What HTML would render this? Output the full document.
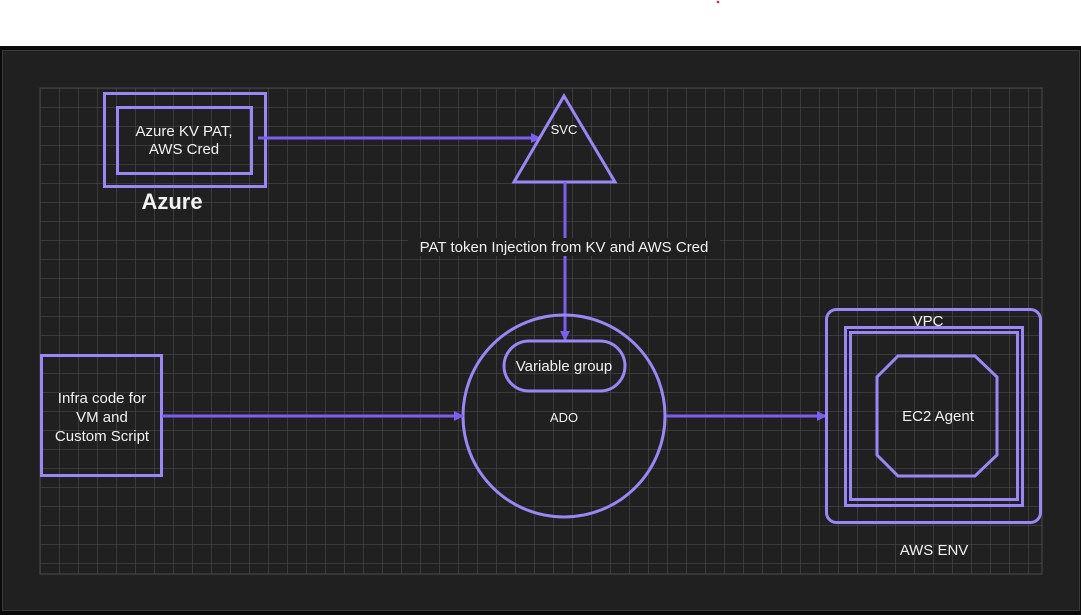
<!DOCTYPE html>
<html><head><meta charset="utf-8"><style>
html,body{margin:0;padding:0;background:#fff;}
svg{display:block;}
text{font-family:"Liberation Sans",Arial,sans-serif;fill:#f2f2f2;}
</style></head><body>
<svg width="1081" height="615" viewBox="0 0 1081 615" xmlns="http://www.w3.org/2000/svg">
<defs>
<pattern id="g" x="40" y="88" width="19" height="19" patternUnits="userSpaceOnUse">
<path d="M0 0H19M0 0V19" stroke="#4a4a4a" stroke-width="1.2" fill="none"/>
</pattern>
<marker id="a" markerWidth="10" markerHeight="10" refX="9" refY="5" orient="auto" markerUnits="userSpaceOnUse">
<path d="M0 0L10 5L0 10Z" fill="#7c5ff0"/>
</marker>
</defs>
<rect x="0" y="0" width="1081" height="46" fill="#fff"/>
<circle cx="718" cy="2" r="1.3" fill="#e0202a"/>
<rect x="0" y="46" width="1081" height="569" fill="#0a0a0a"/>
<rect x="2.5" y="50.5" width="1077" height="560" fill="#202020" stroke="#3a3a3a" stroke-width="1"/>
<rect x="40" y="88" width="1002" height="486" fill="url(#g)"/>
<rect x="40" y="88" width="1002" height="486" fill="none" stroke="#4a4a4a" stroke-width="1"/>

<!-- Azure -->
<rect x="104.5" y="93.5" width="161" height="93" fill="none" stroke="#9a86f5" stroke-width="3"/>
<rect x="117.5" y="107.5" width="134" height="66" fill="none" stroke="#9a86f5" stroke-width="3"/>
<text x="184" y="136" font-size="15" text-anchor="middle">Azure KV PAT,</text>
<text x="184" y="154" font-size="15" text-anchor="middle">AWS Cred</text>
<text x="172" y="209" font-size="22" font-weight="bold" text-anchor="middle">Azure</text>
<line x1="258" y1="138" x2="540" y2="138" stroke="#7c5ff0" stroke-width="3" marker-end="url(#a)"/>

<!-- SVC triangle -->
<polygon points="564,96 615,182 514,182" fill="none" stroke="#9a86f5" stroke-width="3" stroke-linejoin="miter"/>
<text x="564" y="134" font-size="13" text-anchor="middle">SVC</text>

<!-- vertical connector -->
<line x1="565" y1="182" x2="565" y2="340" stroke="#7c5ff0" stroke-width="3" marker-end="url(#a)"/>
<rect x="408" y="238" width="312" height="18" fill="#202020"/>
<text x="564" y="252" font-size="15" text-anchor="middle">PAT token Injection from KV and AWS Cred</text>

<!-- ADO -->
<circle cx="564" cy="416" r="101" fill="none" stroke="#9a86f5" stroke-width="3"/>
<rect x="504" y="341" width="121" height="50" rx="25" fill="none" stroke="#9a86f5" stroke-width="3"/>
<text x="564" y="371" font-size="15" text-anchor="middle">Variable group</text>
<text x="564" y="422" font-size="13" text-anchor="middle">ADO</text>

<!-- Infra -->
<rect x="41.5" y="355.5" width="120" height="120" fill="none" stroke="#9a86f5" stroke-width="3"/>
<text x="102" y="403" font-size="15" text-anchor="middle">Infra code for</text>
<text x="102" y="422" font-size="15" text-anchor="middle">VM and</text>
<text x="102" y="441" font-size="15" text-anchor="middle">Custom Script</text>
<line x1="162" y1="416" x2="463" y2="416" stroke="#7c5ff0" stroke-width="3" marker-end="url(#a)"/>

<line x1="666" y1="416" x2="826" y2="416" stroke="#7c5ff0" stroke-width="3" marker-end="url(#a)"/>

<!-- AWS -->
<rect x="826.5" y="309.5" width="214" height="213" rx="10" fill="none" stroke="#9a86f5" stroke-width="3"/>
<rect x="845.5" y="327.5" width="177" height="178" fill="none" stroke="#9a86f5" stroke-width="3"/>
<rect x="850.5" y="332.5" width="167" height="167" fill="none" stroke="#9a86f5" stroke-width="3"/>
<text x="928" y="326" font-size="15" text-anchor="middle">VPC</text>
<polygon points="898,356 975,356 997,377 997,455 975,476 898,476 877,455 877,377" fill="none" stroke="#9a86f5" stroke-width="3"/>
<text x="938" y="421" font-size="15" text-anchor="middle">EC2 Agent</text>
<text x="934" y="555" font-size="15" text-anchor="middle">AWS ENV</text>
</svg>
</body></html>
